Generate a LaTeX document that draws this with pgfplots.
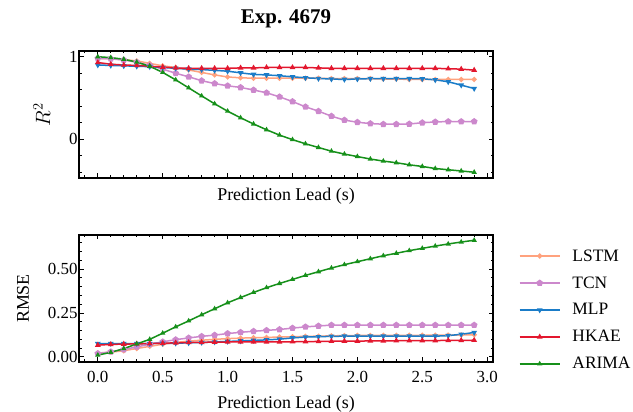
\documentclass[border=0pt]{standalone}
\usepackage{pgfplots}
\pgfplotsset{compat=1.18}
\usepackage{pgfplotstable}
\usepackage{fontspec}
\setmainfont{Liberation Serif}
\usetikzlibrary{plotmarks}

\definecolor{clstm}{HTML}{FFA27E}
\definecolor{ctcn}{HTML}{CC88CC}
\definecolor{cmlp}{HTML}{1A7CC8}
\definecolor{chkae}{HTML}{E3172E}
\definecolor{carima}{HTML}{16901A}

% R^2 per prediction lead
\pgfplotstableread{
x    lstm   tcn    mlp    hkae   arima
0.0  0.980  0.980  0.900  0.930  1.000
0.1  0.975  0.975  0.895  0.910  0.990
0.2  0.965  0.960  0.890  0.900  0.970
0.3  0.950  0.935  0.885  0.895  0.935
0.4  0.920  0.895  0.880  0.885  0.885
0.5  0.890  0.850  0.870  0.875  0.810
0.6  0.870  0.800  0.860  0.865  0.720
0.7  0.840  0.757  0.850  0.860  0.623
0.8  0.810  0.710  0.845  0.860  0.525
0.9  0.780  0.675  0.835  0.860  0.430
1.0  0.755  0.648  0.825  0.860  0.340
1.1  0.745  0.628  0.805  0.865  0.260
1.2  0.740  0.597  0.786  0.865  0.185
1.3  0.740  0.563  0.780  0.870  0.115
1.4  0.740  0.514  0.770  0.870  0.050
1.5  0.740  0.457  0.757  0.870  -0.005
1.6  0.740  0.393  0.745  0.870  -0.055
1.7  0.740  0.340  0.737  0.865  -0.100
1.8  0.735  0.280  0.730  0.860  -0.145
1.9  0.735  0.232  0.725  0.860  -0.180
2.0  0.735  0.206  0.730  0.860  -0.210
2.1  0.735  0.190  0.735  0.860  -0.240
2.2  0.730  0.182  0.735  0.860  -0.265
2.3  0.730  0.182  0.735  0.860  -0.285
2.4  0.725  0.185  0.735  0.860  -0.310
2.5  0.725  0.200  0.733  0.860  -0.330
2.6  0.725  0.210  0.720  0.860  -0.355
2.7  0.725  0.214  0.697  0.855  -0.370
2.8  0.725  0.214  0.656  0.850  -0.385
2.9  0.725  0.215  0.615  0.838  -0.400
}\rtwo

% RMSE per prediction lead
\pgfplotstableread{
x    lstm   tcn    mlp    hkae   arima
0.0  0.022  0.019  0.076  0.067  0.010
0.1  0.027  0.029  0.076  0.071  0.026
0.2  0.035  0.042  0.076  0.073  0.047
0.3  0.048  0.057  0.076  0.074  0.074
0.4  0.060  0.072  0.076  0.076  0.100
0.5  0.072  0.086  0.077  0.078  0.135
0.6  0.082  0.098  0.078  0.080  0.171
0.7  0.090  0.108  0.080  0.082  0.205
0.8  0.095  0.117  0.082  0.083  0.240
0.9  0.100  0.124  0.085  0.084  0.274
1.0  0.104  0.133  0.088  0.085  0.308
1.1  0.107  0.140  0.091  0.085  0.338
1.2  0.109  0.146  0.094  0.085  0.367
1.3  0.111  0.151  0.097  0.085  0.394
1.4  0.113  0.156  0.101  0.085  0.418
1.5  0.115  0.164  0.108  0.086  0.441
1.6  0.117  0.171  0.113  0.087  0.464
1.7  0.118  0.176  0.115  0.088  0.485
1.8  0.120  0.181  0.117  0.089  0.506
1.9  0.121  0.181  0.118  0.090  0.525
2.0  0.122  0.181  0.118  0.090  0.542
2.1  0.122  0.181  0.118  0.091  0.559
2.2  0.123  0.181  0.118  0.091  0.576
2.3  0.123  0.181  0.118  0.092  0.590
2.4  0.123  0.181  0.118  0.092  0.605
2.5  0.123  0.181  0.118  0.093  0.618
2.6  0.124  0.181  0.118  0.093  0.631
2.7  0.124  0.181  0.121  0.094  0.643
2.8  0.125  0.181  0.129  0.094  0.654
2.9  0.126  0.181  0.139  0.095  0.664
}\rmse

\pgfplotsset{
  panel/.style={
    scale only axis, width=414bp, height=127bp,
    xmin=-0.145, xmax=3.045,
    tick align=inside, tick pos=both,
    axis line style={line width=1.6bp},
    tick style={black, line width=0.9bp},
    major tick length=4.5bp, minor tick length=2.5bp,
    xtick={0,0.5,...,3.0},
    minor xtick={-0.1,0,...,3.0},
    tick label style={font=\fontsize{17}{20}\selectfont},
    yticklabel style={xshift=2bp},
    label style={font=\fontsize{18}{21}\selectfont},
    /pgf/number format/assume math mode=true,
    xlabel={Prediction Lead (s)},
    every axis plot/.append style={line width=1.5bp},
  },
  lstm/.style={clstm, mark=*, mark size=1.8bp},
  tcn/.style={ctcn, mark=pentagon*, mark size=2.6bp},
  mlp/.style={cmlp, mark=triangle*, mark size=1.9bp, mark options={rotate=180}},
  hkae/.style={chkae, mark=triangle*, mark size=1.9bp},
  arima/.style={carima, mark=triangle*, mark size=1.6bp},
}

\begin{document}
\begin{tikzpicture}
\useasboundingbox (0,0) rectangle (633bp,412bp);

\node[font=\bfseries\fontsize{21}{24}\selectfont] at (286bp,393bp) {Exp. 4679};

\begin{axis}[panel,
  at={(79bp,234bp)}, anchor=south west,
  ymin=-0.47, ymax=1.07,
  ytick={0,1}, minor ytick={-0.4,-0.2,0.2,0.4,0.6,0.8},
  xticklabel=\empty,
  ylabel={$R^2$},
  ylabel style={font=\fontsize{20}{23}\selectfont},
  ylabel shift=12bp,
]
\addplot[lstm] table[x=x,y=lstm] {\rtwo};
\addplot[tcn] table[x=x,y=tcn] {\rtwo};
\addplot[mlp] table[x=x,y=mlp] {\rtwo};
\addplot[hkae] table[x=x,y=hkae] {\rtwo};
\addplot[arima] table[x=x,y=arima] {\rtwo};
\end{axis}

\begin{axis}[panel,
  at={(79bp,50bp)}, anchor=south west,
  ymin=-0.029, ymax=0.694,
  ytick={0,0.25,0.5}, minor ytick={0.05,0.1,...,0.65},
  yticklabel style={/pgf/number format/.cd, fixed, fixed zerofill, precision=2},
  xticklabel style={yshift=-6bp, /pgf/number format/.cd, fixed, fixed zerofill, precision=1},
  xlabel style={yshift=-6bp},
  ylabel={RMSE},
  ylabel shift=12bp,
  legend style={at={(1.055,0.41)}, anchor=west, draw=none, fill=none,
    font=\fontsize{17.5}{21}\selectfont, row sep=10bp,
    /tikz/every odd column/.append style={column sep=10bp}},
  legend cell align=left,
  legend image code/.code={\draw[mark repeat=2, mark phase=2]
    plot coordinates {(0bp,0bp)(20bp,0bp)(40bp,0bp)};},
]
\addplot[lstm] table[x=x,y=lstm] {\rmse};
\addplot[tcn] table[x=x,y=tcn] {\rmse};
\addplot[mlp] table[x=x,y=mlp] {\rmse};
\addplot[hkae] table[x=x,y=hkae] {\rmse};
\addplot[arima] table[x=x,y=arima] {\rmse};
\legend{LSTM, TCN, MLP, HKAE, ARIMA}
\end{axis}
\end{tikzpicture}
\end{document}
